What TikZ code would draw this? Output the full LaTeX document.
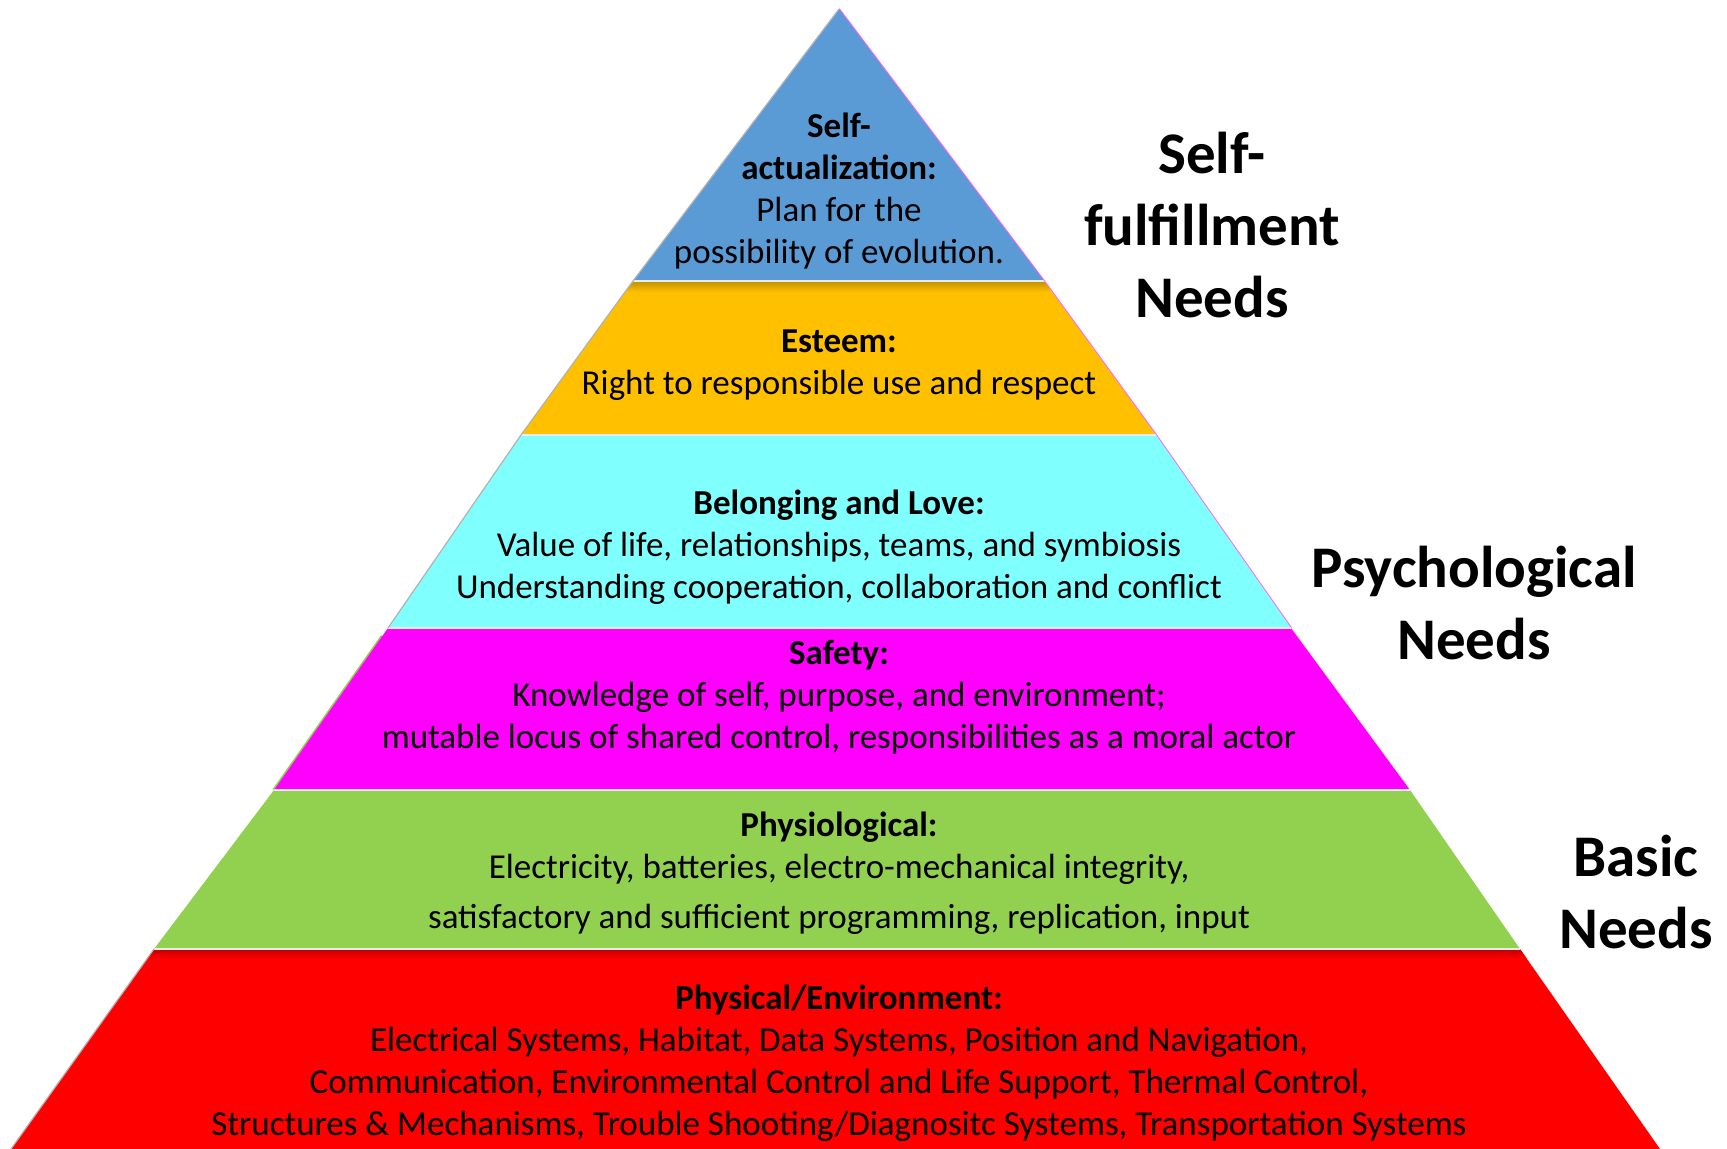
\documentclass[tikz,border=0pt]{standalone}
\usepackage{fontspec}
\setmainfont{Carlito}
\usetikzlibrary{calc}
\begin{document}
\definecolor{lvlblue}{HTML}{5B9BD5}
\definecolor{lvlorange}{HTML}{FFC000}
\definecolor{lvlcyan}{HTML}{80FFFF}
\definecolor{lvlmagenta}{HTML}{FF00FF}
\definecolor{lvlgreen}{HTML}{92D050}
\definecolor{lvlred}{HTML}{FF0000}
\begin{tikzpicture}[x=0.5pt,y=-0.5pt,
  bandtext/.style={align=center,font=\fontsize{17.5}{21}\selectfont,inner sep=0pt},
  sidetext/.style={align=center,font=\fontsize{29.5}{36}\selectfont\bfseries,inner sep=0pt},
  seam/.style={draw=white!85!gray,line width=0.8pt}]
\useasboundingbox (0,0) rectangle (1727,1149);
\fill[white] (0,0) rectangle (1727,1149);
% outline of the pyramid, left and right flanks
\coordinate (apex) at (839,9);
\coordinate (l1) at (633,281);  \coordinate (r1) at (1044,281);
\coordinate (l2) at (521,435);  \coordinate (r2) at (1156,435);
\coordinate (l3) at (388,628);  \coordinate (r3) at (1291,628);
\coordinate (l4) at (274,790);  \coordinate (r4) at (1410,790);
\coordinate (l5) at (154,949);  \coordinate (r5) at (1520,949);
\coordinate (bl) at (11,1149);  \coordinate (br) at (1660,1149);
% thin green rim showing along the left side of the safety band
\draw[lvlgreen,line width=1.6pt] ($(l3)!0.05!(l4)$) -- (l4);
% faint magenta rim along the upper right side
\draw[lvlmagenta!60,line width=1pt] (apex) -- (r1) -- (r2) -- (r3);
\begin{scope}
  \clip (apex) -- (l1) -- (l2) -- (l3) -- (l4) -- (l5) -- (bl)
        -- (br) -- (r5) -- (r4) -- (r3) -- (r2) -- (r1) -- cycle;
  \fill[lvlblue]    (0,0)   rectangle (1727,281);
  \fill[lvlorange]  (0,281) rectangle (1727,435);
  \fill[lvlcyan]    (0,435) rectangle (1727,628);
  \fill[lvlmagenta] (0,628) rectangle (1727,790);
  \fill[lvlgreen]   (0,790) rectangle (1727,949);
  \fill[lvlred]     (0,949) rectangle (1727,1149);
  % soft shadow under the upper bands
  \shade[top color=lvlorange!75!black,bottom color=lvlorange] (0,281) rectangle (1727,292);
  \shade[top color=lvlred!75!black,bottom color=lvlred] (0,949) rectangle (1727,958);
  \foreach \yy in {281,435,628,790,949}
    \draw[seam] (0,\yy) -- (1727,\yy);
\end{scope}
\draw[gray!60,line width=0.6pt] (apex) -- (l1) -- (l2) -- (l3);
\draw[gray!60,line width=0.6pt] (l5) -- (bl);

% level texts
\node[bandtext] (self) at (839,191) {\textbf{Self-}\\\textbf{actualization:}\\Plan for the\\possibility of evolution.};
\node[bandtext] (esteem) at (839,365) {\textbf{Esteem:}\\Right to responsible use and respect};
\node[bandtext] (love) at (839,547) {\textbf{Belonging and Love:}\\Value of life, relationships, teams, and symbiosis\\Understanding cooperation, collaboration and conflict};
\node[bandtext] (safety) at (839,697) {\textbf{Safety:}\\Knowledge of self, purpose, and environment;\\mutable locus of shared control, responsibilities as a moral actor};
\node[bandtext] (physio) at (839,873) {\textbf{Physiological:}\\Electricity, batteries, electro-mechanical integrity,\\[4pt]satisfactory and sufficient programming, replication, input};
\node[bandtext] (phys) at (839,1063) {\textbf{Physical/Environment:}\\Electrical Systems, Habitat, Data Systems, Position and Navigation,\\Communication, Environmental Control and Life Support, Thermal Control,\\Structures \& Mechanisms, Trouble Shooting/Diagnositc Systems, Transportation Systems};

% group labels
\node[sidetext] (fulfil) at (1212,225) {Self-\\fulfillment\\Needs};
\node[sidetext] (psych) at (1474,603) {Psychological\\Needs};
\node[sidetext] (basic) at (1636,892) {Basic\\Needs};
\end{tikzpicture}
\end{document}
